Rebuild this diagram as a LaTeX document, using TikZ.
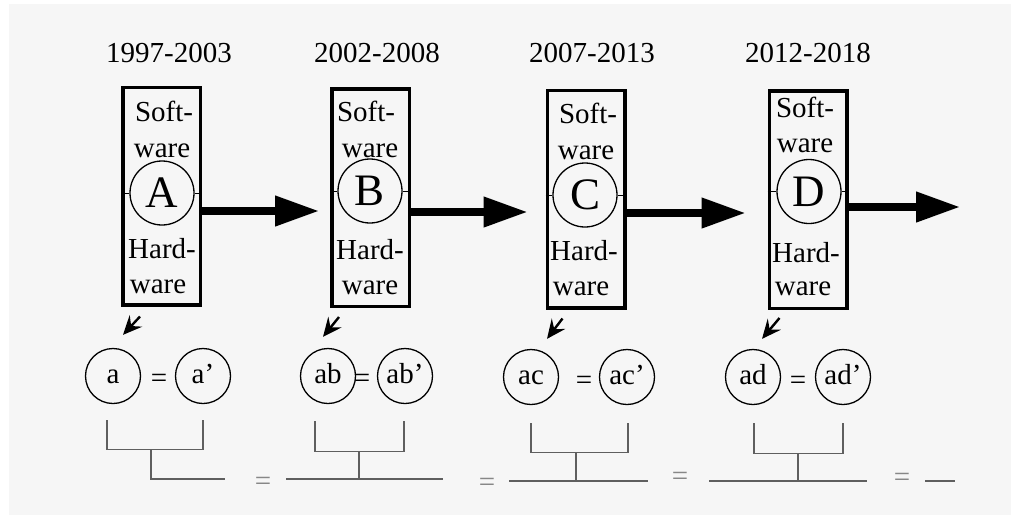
\documentclass[tikz,border=0pt]{standalone}
\usepackage{fontspec}
\setmainfont{Liberation Serif}
\usetikzlibrary{arrows.meta}
\definecolor{paper}{RGB}{246,246,246}
\definecolor{rulegray}{RGB}{95,95,95}
\definecolor{eqgray}{RGB}{135,135,135}

\begin{document}
\begin{tikzpicture}[x=1pt,y=-1pt,
  lab/.style={font=\fontsize{29}{30}\selectfont, inner sep=0pt, anchor=base},
  eraframe/.style={draw, line width=3.5pt, minimum width=77.5pt, minimum height=217.5pt, inner sep=0pt},
  core/.style={draw, circle, line width=1.3pt, minimum size=64pt, inner sep=0pt,
               font=\fontsize{45}{46}\selectfont},
  part/.style={draw, circle, line width=1.3pt, minimum size=55pt, inner sep=0pt,
               font=\fontsize{29}{30}\selectfont, text height=14pt, text depth=0pt},
  tick/.style={line width=1pt},
  bigarrow/.style={line width=7.5pt, -{Triangle[length=44pt,width=29pt]}},
  pointer/.style={line width=2.4pt, -{Stealth[length=19pt,width=17pt,inset=7pt]}},
  bracket/.style={draw=rulegray, line width=1.2pt},
  eqsign/.style={lab, text=eqgray},
]
% page
\fill[white] (0,0) rectangle (1011,515);
\fill[paper] (9,4) rectangle (1011,515);
\useasboundingbox (0,0) rectangle (1011,515);

% ---------- era frames ----------
\node[eraframe] (bA) at (161.5,196)   {};
\node[eraframe] (bB) at (370.5,197.5) {};
\node[eraframe] (bC) at (586,199)     {};
\node[eraframe] (bD) at (808,199.5)   {};

% years
\node[lab] (yA) at (169,62) {1997-2003};
\node[lab] (yB) at (377,62) {2002-2008};
\node[lab] (yC) at (592,62) {2007-2013};
\node[lab] (yD) at (808,62) {2012-2018};

% core circles
\node[core] (cA) at (162,193) {A};
\node[core] (cB) at (370,191) {B};
\node[core] (cC) at (585,195) {C};
\node[core] (cD) at (809,191.5) {D};

% short ties from the circles to the frame sides
\draw[tick] (cA.west -| bA.west) -- (cA.west);
\draw[tick] (cA.east) -- (cA.east -| bA.east);
\draw[tick] (cB.west -| bB.west) -- (cB.west);
\draw[tick] (cB.east) -- (cB.east -| bB.east);
\draw[tick] (cC.west -| bC.west) -- (cC.west);
\draw[tick] (cC.east) -- (cC.east -| bC.east);
\draw[tick] (cD.west -| bD.west) -- (cD.west);
\draw[tick] (cD.east) -- (cD.east -| bD.east);

% frame texts
\node[lab] (sA1) at (164,121) {Soft-};
\node[lab] (sA2) at (162,157) {ware};
\node[lab] (hA1) at (162,258) {Hard-};
\node[lab] (hA2) at (158,293) {ware};

\node[lab] (sB1) at (366,121) {Soft-};
\node[lab] (sB2) at (370,157) {ware};
\node[lab] (hB1) at (370,259) {Hard-};
\node[lab] (hB2) at (370,294) {ware};

\node[lab] (sC1) at (588,123) {Soft-};
\node[lab] (sC2) at (586,159) {ware};
\node[lab] (hC1) at (584,260) {Hard-};
\node[lab] (hC2) at (581,295) {ware};

\node[lab] (sD1) at (805,117) {Soft-};
\node[lab] (sD2) at (805,152) {ware};
\node[lab] (hD1) at (806,262) {Hard-};
\node[lab] (hD2) at (803,295) {ware};

% ---------- succession arrows ----------
\coordinate (nextEra) at (960,207);
\draw[bigarrow, shorten >=11pt] ([yshift=-15pt]bA.east) -- ([yshift=-15pt]bA.east -| bB.west);
\draw[bigarrow, shorten >=18pt] ([yshift=-14.5pt]bB.east) -- ([yshift=-14.5pt]bB.east -| bC.west);
\draw[bigarrow, shorten >=22pt] ([yshift=-14pt]bC.east) -- ([yshift=-14pt]bC.east -| bD.west);
\draw[bigarrow] (bD.east |- nextEra) -- (nextEra);

% ---------- compatibility pairs ----------
\node[part] (pA)  at (113,376) {a};
\node[part] (qA)  at (203,376) {a’};
\node[part] (pB)  at (328,376) {ab};
\node[part] (qB)  at (405,376) {ab’};
\node[part] (pC)  at (531,377) {ac};
\node[part] (qC)  at (627,377) {ac’};
\node[part] (pD)  at (753,377) {ad};
\node[part] (qD)  at (843,377) {ad’};

\node[lab] (eA) at (159,387) {=};
\node[lab] (eB) at (362,387) {=};
\node[lab] (eC) at (584,389) {=};
\node[lab] (eD) at (798,389) {=};

% pointers from frames to pairs
\draw[pointer] ([shift={(19pt,-10pt)}]bA.south west) -- ([shift={(10pt,13pt)}]pA.north);
\draw[pointer] ([shift={(9pt,-9pt)}]bB.south west)   -- ([shift={(-5pt,11pt)}]pB.north);
\draw[pointer] ([shift={(17pt,-9pt)}]bC.south west)  -- ([shift={(16pt,10pt)}]pC.north);
\draw[pointer] ([shift={(12pt,-8pt)}]bD.south west)  -- ([shift={(9pt,10pt)}]pD.north);

% ---------- brackets ----------
\draw[bracket] ([shift={(-6pt,-16pt)}]pA.south) |- ([shift={(0pt,-45pt)}]qA.south) -- ([shift={(0pt,-16pt)}]qA.south);
\draw[bracket] (151,449) -- (151,479) -- (225,479);

\draw[bracket] ([shift={(-13pt,-17pt)}]pB.south) |- ([shift={(-1pt,-47pt)}]qB.south) -- ([shift={(-1pt,-17pt)}]qB.south);
\draw[bracket] (359,451) -- (359,479);
\draw[bracket] (286,479) -- (443,479);

\draw[bracket] ([shift={(0pt,-18pt)}]pC.south) |- ([shift={(1pt,-47pt)}]qC.south) -- ([shift={(1pt,-18pt)}]qC.south);
\draw[bracket] (576,452) -- (576,481);
\draw[bracket] (509,481) -- (648,481);

\draw[bracket] ([shift={(1pt,-18pt)}]pD.south) |- ([shift={(0pt,-48pt)}]qD.south) -- ([shift={(0pt,-18pt)}]qD.south);
\draw[bracket] (798,453) -- (798,481);
\draw[bracket] (709,481) -- (867,481);

\draw[bracket] (925,481) -- (955,481);

\node[eqsign] (fA) at (263,490) {=};
\node[eqsign] (fB) at (487,491) {=};
\node[eqsign] (fC) at (680,485) {=};
\node[eqsign] (fD) at (902,486) {=};
\end{tikzpicture}
\end{document}
